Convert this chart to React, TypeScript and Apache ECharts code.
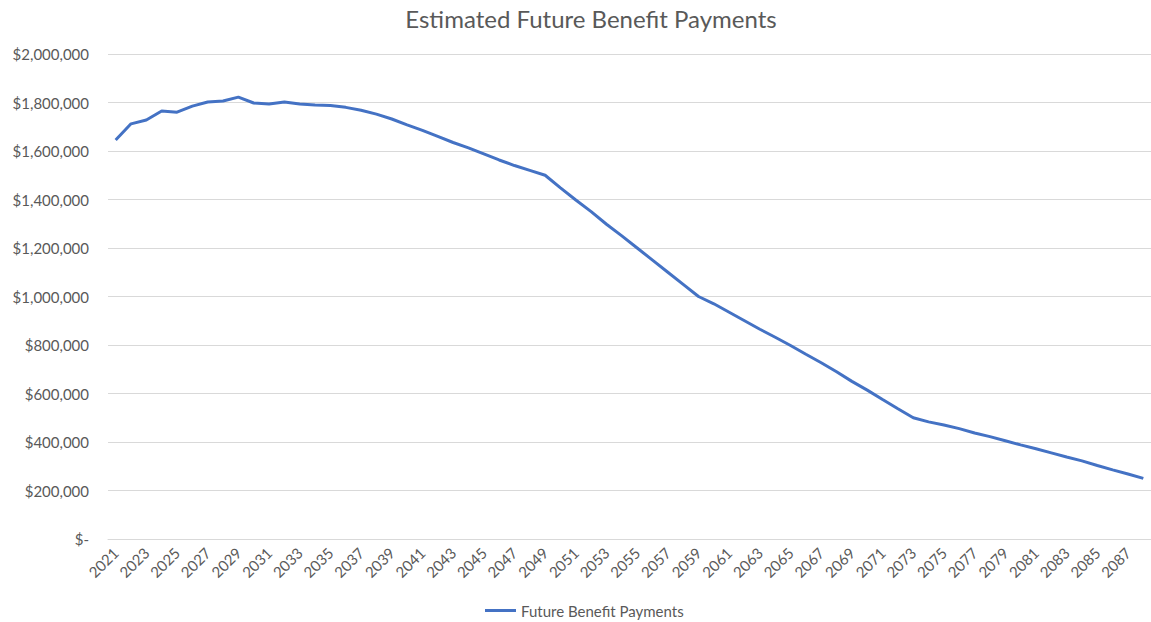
import React, { useEffect, useRef } from "react";
import * as echarts from "echarts";

const years: string[] = [];
for (let y = 2021; y <= 2088; y++) years.push(String(y));

const payments: number[] = [
  1645000, 1712000, 1728000, 1765000, 1760000, 1785000, 1802000, 1806000, 1822000, 1798000,
  1794000, 1802000, 1794000, 1790000, 1788000, 1780000, 1768000, 1752000, 1732000, 1708000,
  1685000, 1660000, 1635000, 1613000, 1588000, 1563000, 1540000, 1520000, 1500000, 1448000,
  1398000, 1350000, 1298000, 1250000, 1200000, 1150000, 1100000, 1050000, 1000000, 970000,
  935000, 900000, 865000, 832000, 798000, 762000, 727000, 690000, 650000, 614000,
  575000, 537000, 500000, 483000, 470000, 455000, 437000, 422000, 405000, 388000,
  372000, 355000, 338000, 322000, 303000, 285000, 268000, 250000,
];

const seriesName = "Future Benefit Payments";
const title = "Estimated Future Benefit Payments";

const fmt = (v: number) => (v === 0 ? "$-" : "$" + v.toLocaleString("en-US"));

export default function App() {
  const ref = useRef<HTMLDivElement>(null);
  useEffect(() => {
    if (!ref.current) return;
    const chart = echarts.init(ref.current, null, { renderer: "svg" });
    const font = "Lato, 'Open Sans', sans-serif";
    chart.setOption({
      animation: false,
      backgroundColor: "#ffffff",
      textStyle: { fontFamily: font },
      graphic: [
        {
          type: "text",
          x: 591,
          y: 18,
          style: {
            text: title,
            fontFamily: font,
            fontSize: 24,
            fill: "#595959",
            textAlign: "center",
            textVerticalAlign: "middle",
          },
        },
      ],
      legend: {
        left: 485,
        top: 603,
        padding: 0,
        itemWidth: 31,
        itemHeight: 3,
        itemGap: 6,
        icon: "rect",
        textStyle: { color: "#595959", fontSize: 15, fontFamily: font },
        data: [seriesName],
      },
      grid: { left: 108, top: 54, width: 1046, height: 485, containLabel: false },
      xAxis: {
        type: "category",
        data: years,
        boundaryGap: true,
        axisLine: { show: true, lineStyle: { color: "#d9d9d9", width: 1 } },
        axisTick: { show: false },
        axisLabel: {
          interval: 1,
          rotate: 45,
          margin: 11,
          color: "#595959",
          fontSize: 15,
          fontFamily: font,
        },
      },
      yAxis: {
        type: "value",
        min: 0,
        max: 2000000,
        interval: 200000,
        axisLine: { show: false },
        axisTick: { show: false },
        splitLine: { lineStyle: { color: "#d9d9d9", width: 1 } },
        axisLabel: {
          formatter: fmt,
          margin: 19,
          color: "#595959",
          fontSize: 15,
          fontFamily: font,
        },
      },
      series: [
        {
          name: seriesName,
          type: "line",
          data: payments,
          showSymbol: false,
          symbol: "none",
          lineStyle: { color: "#4472C4", width: 3 },
          itemStyle: { color: "#4472C4" },
        },
      ],
    });
    return () => chart.dispose();
  }, []);
  return (
    <div
      ref={ref}
      style={{ position: "absolute", left: 0, top: 0, width: 1151, height: 622 }}
    />
  );
}
